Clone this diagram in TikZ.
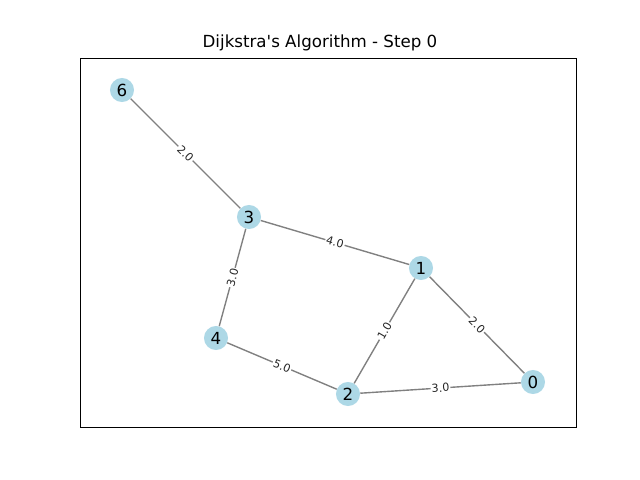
\documentclass[tikz,border=0pt]{standalone}
\usepackage{fontspec}
\setmainfont{DejaVu Sans}
\usepackage{xcolor}
\usepackage{tikz}

\definecolor{nodeblue}{HTML}{ADD8E6}
\definecolor{edgegray}{HTML}{808080}

\tikzset{
    vertex/.style={circle, fill=nodeblue, minimum size=17.3pt, inner sep=0pt, font=\fontsize{12}{14}\selectfont},
    edge/.style={draw=edgegray, line width=1pt},
    weight/.style={fill=white, inner sep=0.8pt, sloped, font=\fontsize{8}{9}\selectfont, text=black!85}
}

\begin{document}
\begin{tikzpicture}[x=0.72pt, y=-0.72pt]
        \useasboundingbox (0,0) rectangle (640,480);
        \node (title) at (320,43) {\fontsize{12}{14}\selectfont Dijkstra\textquotesingle s Algorithm - Step 0};
        \draw[black, line width=0.6pt] (80,58) rectangle (576,427);

        % vertices
        \node[vertex] (n6) at (122,90) {6};
        \node[vertex] (n3) at (249,217) {3};
        \node[vertex] (n1) at (421,268) {1};
        \node[vertex] (n4) at (216,338) {4};
        \node[vertex] (n2) at (348,394) {2};
        \node[vertex] (n0) at (533,382) {0};

        % weighted edges
        \draw[edge] (n6) -- node[weight] {2.0} (n3);
        \draw[edge] (n3) -- node[weight] {4.0} (n1);
        \draw[edge] (n3) -- node[weight] {3.0} (n4);
        \draw[edge] (n4) -- node[weight] {5.0} (n2);
        \draw[edge] (n2) -- node[weight] {1.0} (n1);
        \draw[edge] (n1) -- node[weight] {2.0} (n0);
        \draw[edge] (n2) -- node[weight] {3.0} (n0);
    \end{tikzpicture}
\end{document}
